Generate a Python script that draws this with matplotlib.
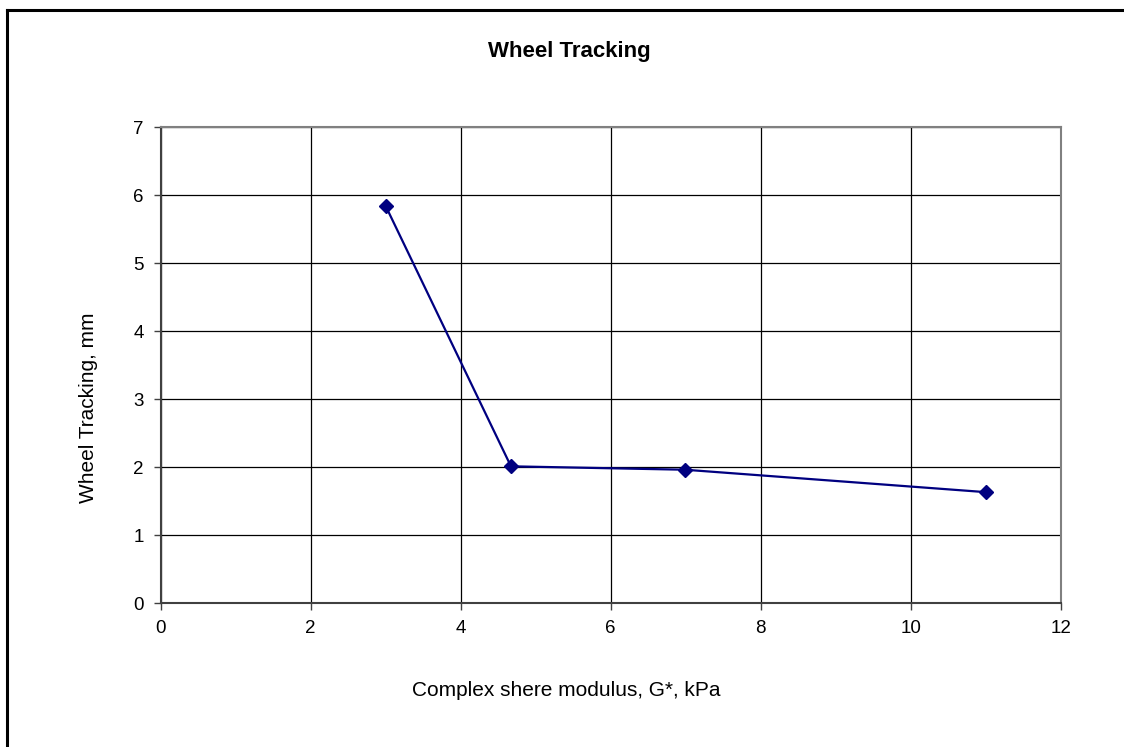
import matplotlib.pyplot as plt
from matplotlib.lines import Line2D

plt.rcParams['font.family'] = ['Liberation Sans', 'DejaVu Sans']

# complex shear modulus (kPa) vs. rut depth (mm)
g_star = [3.0, 4.67, 6.99, 11.0]
rut_depth = [5.84, 2.01, 1.96, 1.63]

xticks = [0, 2, 4, 6, 8, 10, 12]
yticks = [0, 1, 2, 3, 4, 5, 6, 7]

W, H = 1124, 747
fig = plt.figure(figsize=(W / 100, H / 100), dpi=100)
ax = fig.add_axes([160.5 / W, 1 - 603 / H, 900.5 / W, 476 / H])

ax.plot(g_star, rut_depth, color='#000080', linewidth=1.6,
        marker='D', markersize=7.5, markerfacecolor='#000080',
        markeredgecolor='#000080')

ax.set_xlim(0, 12)
ax.set_ylim(0, 7)
ax.set_xticks(xticks)
ax.set_yticks(yticks)
ax.grid(True, color='black', linewidth=0.9)
ax.set_axisbelow(True)

for side in ['top', 'right']:
    ax.spines[side].set_color('#808080')
    ax.spines[side].set_linewidth(1.5)
for side in ['left', 'bottom']:
    ax.spines[side].set_color('#404040')
    ax.spines[side].set_linewidth(1.5)

ax.tick_params(direction='out', length=5, width=1, color='#404040',
               labelsize=13.5, pad=7)

# titles placed in figure coordinates, like the spreadsheet chart layout
fig.text(569 / W, 1 - 52 / H, 'Wheel Tracking', fontsize=16,
         fontweight='bold', ha='center', va='center')
fig.text(566 / W, 1 - 690 / H, 'Complex shere modulus, G*, kPa',
         fontsize=15, ha='center', va='center')
fig.text(89 / W, 1 - 408 / H, 'Wheel Tracking, mm', fontsize=15,
         rotation=90, ha='center', va='center')

# outer chart frame (top and left edges)
fig.add_artist(Line2D([7 / W, 7 / W], [0, 1 - 10 / H],
                      color='black', linewidth=2.2))
fig.add_artist(Line2D([7 / W, 1], [1 - 10 / H, 1 - 10 / H],
                      color='black', linewidth=2.2))

fig.savefig('out.png', dpi=100)
